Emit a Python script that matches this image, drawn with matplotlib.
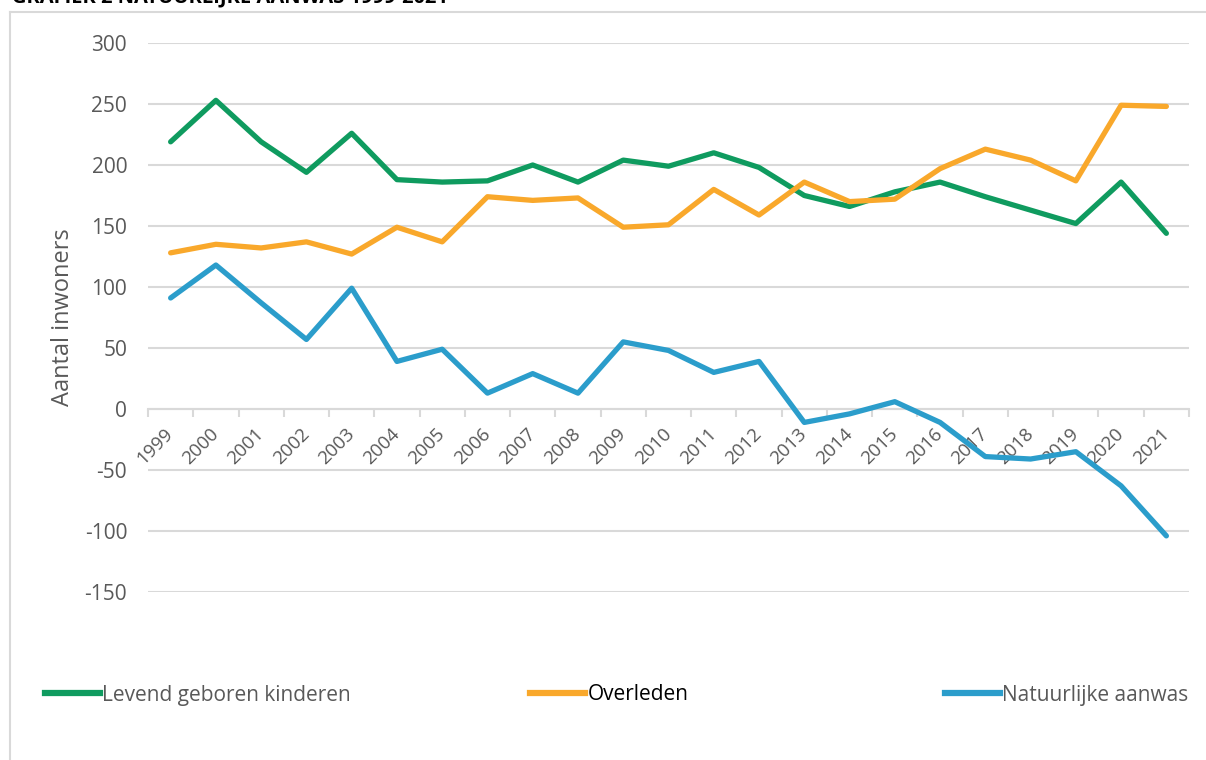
import matplotlib.pyplot as plt
from matplotlib.lines import Line2D

plt.rcParams['font.family'] = ['Open Sans', 'DejaVu Sans']
plt.rcParams['axes.unicode_minus'] = False

# data
jaren = [str(j) for j in range(1999, 2022)]
geboren = [219, 253, 219, 194, 226, 188, 186, 187, 200, 186, 204, 199,
           210, 198, 175, 166, 178, 186, 174, 163, 152, 186, 144]
overleden = [128, 135, 132, 137, 127, 149, 137, 174, 171, 173, 149, 151,
             180, 159, 186, 170, 172, 197, 213, 204, 187, 249, 248]
aanwas = [91, 118, 87, 57, 99, 39, 49, 13, 29, 13, 55, 48,
          30, 39, -11, -4, 6, -11, -39, -41, -35, -63, -104]

kleur_groen = '#0f9b5f'
kleur_oranje = '#f9a82b'
kleur_blauw = '#2b9dcb'
grijs = '#d9d9d9'
tekst = '#595959'

W, H = 1206, 760
fig = plt.figure(figsize=(W / 100, H / 100), dpi=100)
ax = fig.add_axes([148 / W, 1 - 592 / H, (1189 - 148) / W, (592 - 43) / H])

x = list(range(len(jaren)))
lw = 3.8
ax.plot(x, geboren, color=kleur_groen, lw=lw, solid_capstyle='round', solid_joinstyle='round', zorder=3)
ax.plot(x, overleden, color=kleur_oranje, lw=lw, solid_capstyle='round', solid_joinstyle='round', zorder=3)
ax.plot(x, aanwas, color=kleur_blauw, lw=lw, solid_capstyle='round', solid_joinstyle='round', zorder=3)

ax.set_xlim(-0.5, len(jaren) - 0.5)
ax.set_ylim(-150, 300)
ax.set_yticks(range(-150, 301, 50))
ax.yaxis.grid(True, color=grijs, lw=1.5)
ax.set_axisbelow(True)

for s in ['left', 'right', 'top']:
    ax.spines[s].set_visible(False)
ax.spines['bottom'].set_position(('data', 0))
ax.spines['bottom'].set_color(grijs)
ax.spines['bottom'].set_linewidth(1.5)

ax.set_xticks(x)
ax.set_xticklabels(jaren, rotation=45, ha='right', va='center', rotation_mode='anchor')
ax.set_xticks([i - 0.5 for i in range(len(jaren) + 1)], minor=True)
ax.tick_params(axis='x', which='major', length=0, pad=16, labelsize=13.5, labelcolor=tekst)
ax.tick_params(axis='x', which='minor', length=6, width=1.5, color=grijs, direction='out')
ax.tick_params(axis='y', length=0, pad=15, labelsize=15, labelcolor=tekst)

ax.set_ylabel('Aantal inwoners', fontsize=17, color=tekst, labelpad=7)

# legend, three separate entries like the original
entries = [
    (kleur_groen, 'Levend geboren kinderen', tekst, 45 / W),
    (kleur_oranje, 'Overleden', 'black', 530 / W),
    (kleur_blauw, 'Natuurlijke aanwas', tekst, 945 / W),
]
for kleur, naam, tk, xpos in entries:
    h = Line2D([], [], color=kleur, lw=4.5)
    leg = fig.legend([h], [naam], loc='center left', bbox_to_anchor=(xpos, 1 - 695 / H),
                     frameon=False, fontsize=15, handlelength=2.65, handletextpad=0.1,
                     borderpad=0, borderaxespad=0)
    for t in leg.get_texts():
        t.set_color(tk)

# chart border (cut off at right and bottom)
fig.add_artist(Line2D([10 / W, 10 / W], [0, 1 - 12 / H], color=grijs, lw=1.5))
fig.add_artist(Line2D([10 / W, 1], [1 - 12 / H, 1 - 12 / H], color=grijs, lw=1.5))

# title, mostly cut off at the top as in the source image
fig.text(12 / W, 1 - 2 / H, 'GRAFIEK 2 NATUURLIJKE AANWAS 1999-2021', fontsize=14.5,
         fontweight='bold', color='black', va='baseline', ha='left')

fig.savefig('out.png', dpi=100)
